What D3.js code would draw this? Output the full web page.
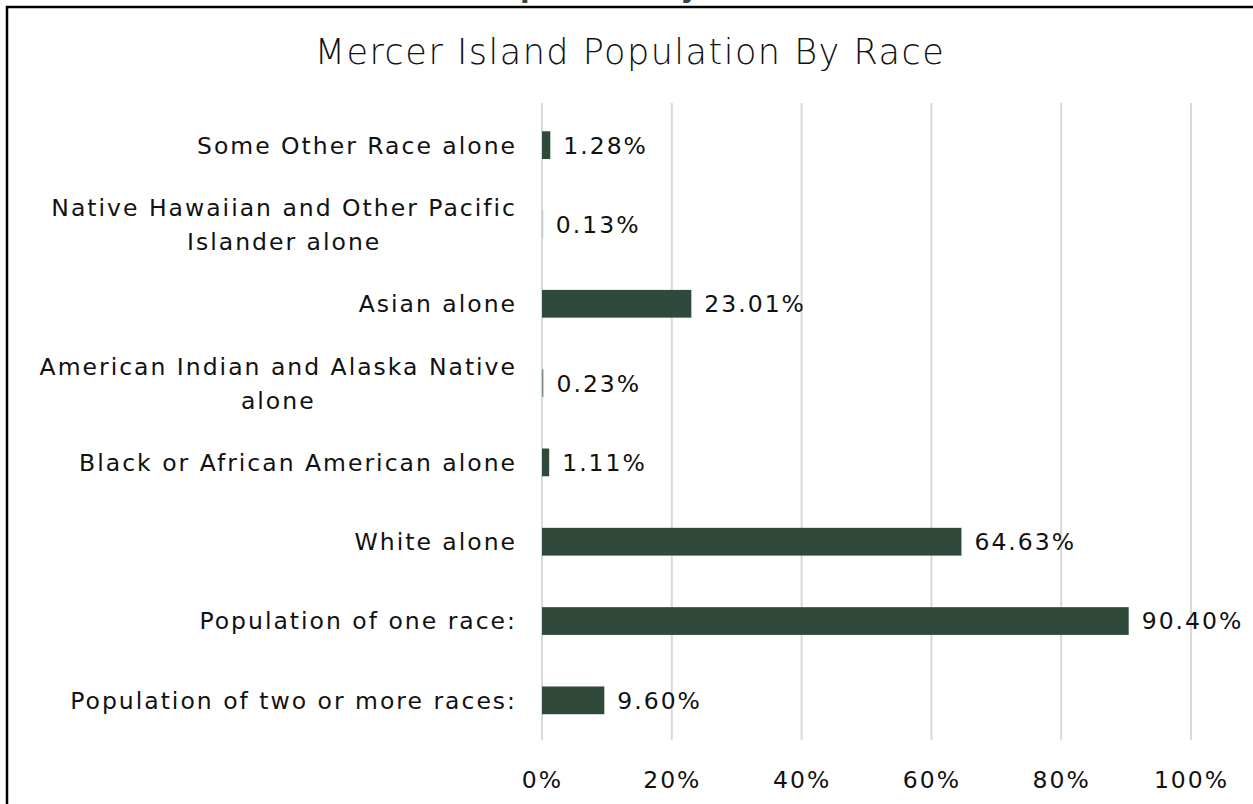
<!DOCTYPE html>
<html>
<head>
<meta charset="utf-8">
<script src="https://cdn.jsdelivr.net/npm/d3@7"></script>
<style>
  html, body { margin: 0; padding: 0; background: #fff; }
  svg { display: block; }
</style>
</head>
<body>
<div class="canvas"></div>
<script>
// DATA ------------------------------------------------------------------------
const categories = [
    'Some Other Race alone',
    'Native Hawaiian and Other Pacific Islander alone',
    'Asian alone',
    'American Indian and Alaska Native alone',
    'Black or African American alone',
    'White alone',
    'Population of one race:',
    'Population of two or more races:'
];
const values = [1.28, 0.13, 23.01, 0.23, 1.11, 64.63, 90.40, 9.60];
const tickValues = [0, 20, 40, 60, 80, 100];
const chartTitle = 'Mercer Island Population By Race';
const pageHeading = 'Mercer Island Population by Race';

// SET UP ----------------------------------------------------------------------
const width = 1253, height = 804;
const font = '"DejaVu Sans", sans-serif';
const ink = '#111';
const barColor = '#2f4a3a';
const labelSize = '23.5px';
const labelSpacing = '2px';

const svg = d3.select('.canvas')
    .append('svg')
        .attr('width', width)
        .attr('height', height);

const x = d3.scaleLinear()
    .domain([0, 100])
    .range([542, 1191]);

const y = d3.scaleBand()
    .domain(categories)
    .range([105.5, 740])
    .paddingInner(0.65)
    .paddingOuter(0.325);

// Heading of the page above, cut off by the top edge
const heading = svg.append('text')
    .attr('y', -3)
    .attr('fill', barColor)
    .style('font-family', font)
    .style('font-size', '28px')
    .style('font-weight', 700)
    .text(pageHeading);
const pIdx = pageHeading.indexOf('pulation');
heading.attr('x', 520 - heading.node().getSubStringLength(0, pIdx));

// Frame (top and left edges)
svg.append('path')
    .attr('d', `M7,${height} V7 H${width}`)
    .attr('fill', 'none')
    .attr('stroke', '#000')
    .attr('stroke-width', 2.5);

// Title
svg.append('text')
    .attr('x', 630)
    .attr('y', 64)
    .attr('text-anchor', 'middle')
    .attr('fill', ink)
    .style('font-family', font)
    .style('font-size', '35px')
    .style('font-weight', 300)
    .style('letter-spacing', '1.5px')
    .text(chartTitle);

// Gridlines
svg.append('g')
    .selectAll('line')
    .data(tickValues)
    .enter()
    .append('line')
        .attr('x1', d => x(d))
        .attr('x2', d => x(d))
        .attr('y1', 103)
        .attr('y2', 740)
        .attr('stroke', '#d9d9d9')
        .attr('stroke-width', 2);

// X axis (labels only)
const xAxis = d3.axisBottom(x)
    .tickValues(tickValues)
    .tickSize(0)
    .tickPadding(31)
    .tickFormat(d => d + '%');
const xAxisGroup = svg.append('g')
    .attr('transform', 'translate(0, 740)')
    .call(xAxis);
xAxisGroup.select('.domain').remove();
xAxisGroup.selectAll('text')
    .attr('fill', ink)
    .style('font-family', font)
    .style('font-size', labelSize)
    .style('letter-spacing', labelSpacing);

// Bars
svg.append('g')
    .selectAll('rect')
    .data(values)
    .enter()
    .append('rect')
        .attr('x', x(0))
        .attr('y', (d, i) => y(categories[i]))
        .attr('width', d => x(d) - x(0))
        .attr('height', y.bandwidth())
        .attr('fill', barColor)
        .attr('stroke', d => d < 0.5 ? '#c8d0cb' : 'none')
        .attr('stroke-width', 1);

// Value labels
svg.append('g')
    .selectAll('text')
    .data(values)
    .enter()
    .append('text')
        .attr('x', d => x(d) + 13)
        .attr('y', (d, i) => y(categories[i]) + y.bandwidth() / 2)
        .attr('dy', '0.36em')
        .attr('fill', ink)
        .style('font-family', font)
        .style('font-size', labelSize)
        .style('letter-spacing', labelSpacing)
        .text(d => d.toFixed(2) + '%');

// Category labels, wrapped and centred on their widest line, right edge at 515
const wrap = (s, maxChars) => {
    const lines = [];
    let cur = '';
    s.split(' ').forEach(w => {
        const next = cur ? cur + ' ' + w : w;
        if (next.length > maxChars && cur) { lines.push(cur); cur = w; }
        else cur = next;
    });
    lines.push(cur);
    return lines;
};

const lineH = 34;
categories.forEach(c => {
    const lines = wrap(c, 33);
    const t = svg.append('text')
        .attr('text-anchor', 'middle')
        .attr('fill', ink)
        .style('font-family', font)
        .style('font-size', labelSize)
        .style('letter-spacing', labelSpacing);
    const cy = y(c) + y.bandwidth() / 2;
    const y0 = cy - (lines.length - 1) * lineH / 2;
    lines.forEach((l, i) => {
        t.append('tspan')
            .attr('y', y0 + i * lineH)
            .attr('dy', '0.36em')
            .text(l);
    });
    let maxW = 0;
    t.selectAll('tspan').each(function() {
        maxW = Math.max(maxW, this.getComputedTextLength());
    });
    t.selectAll('tspan').attr('x', 517 - maxW / 2);
});
</script>
</body>
</html>
